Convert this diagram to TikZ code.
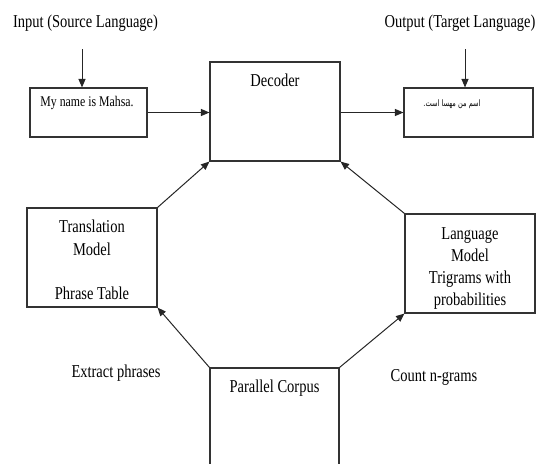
\documentclass[tikz,border=0pt]{standalone}
\usepackage{fontspec}
\setmainfont{Liberation Serif}
\newfontfamily\arabicfont[Script=Arabic]{DejaVu Sans}
\TeXXeTstate=1
\usetikzlibrary{arrows.meta}
\newcommand{\vtxt}[1]{\scalebox{1}[1.25]{#1}}
\begin{document}
\begin{tikzpicture}[x=1pt,y=-1pt,
  box/.style={draw=black!80, line width=1.1pt, inner sep=0pt, fill=none},
  txt/.style={inner sep=0pt, anchor=base, font=\fontsize{14.5}{17}\selectfont},
  small/.style={inner sep=0pt, anchor=base, font=\fontsize{11.8}{14}\selectfont},
  arr/.style={draw=black!85, line width=1pt, -{Triangle[length=8.5pt,width=7pt]}}]
\useasboundingbox (0,0) rectangle (543,463);
\clip (0,0) rectangle (543,463);
% boxes
\node[box, minimum width=117pt, minimum height=49pt] (input) at (88.5,112.5) {};
\node[box, minimum width=130pt, minimum height=99pt] (dec) at (275,111.5) {};
\node[box, minimum width=129pt, minimum height=49pt] (out) at (468.5,112.5) {};
\node[box, minimum width=130pt, minimum height=99pt] (tm) at (92,257.5) {};
\node[box, minimum width=130pt, minimum height=99pt] (lm) at (470,263.5) {};
\node[box, minimum width=129pt, minimum height=130pt] (pc) at (274.5,433) {};
% texts
\node[txt] (inlab) at (85.5,27.8) {\vtxt{Input (Source Language)}};
\node[txt] (outlab) at (460,27.8) {\vtxt{Output (Target Language)}};
\node[small] (intext) at (87,106.7) {\vtxt{My name is Mahsa.}};
\node[inner sep=0pt, anchor=base, font=\arabicfont\fontsize{6.6}{9}\selectfont] (outtext) at (452,106.7) {\scalebox{1}[1.35]{\beginR اسم من مهسا است.\endR}};
\node[txt] (dectext) at (275,86) {\vtxt{Decoder}};
\node[txt] (tm1) at (92,232.7) {\vtxt{Translation}};
\node[txt] (tm2) at (92,255) {\vtxt{Model}};
\node[txt] (tm3) at (92,299) {\vtxt{Phrase Table}};
\node[txt] (lm1) at (470,239) {\vtxt{Language}};
\node[txt] (lm2) at (470,261) {\vtxt{Model}};
\node[txt] (lm3) at (470,283) {\vtxt{Trigrams with}};
\node[txt] (lm4) at (470,305) {\vtxt{probabilities}};
\node[txt] (pctext) at (274.5,392.7) {\vtxt{Parallel Corpus}};
\node[txt] (extract) at (116,377.7) {\vtxt{Extract phrases}};
\node[txt] (count) at (434,381.7) {\vtxt{Count n-grams}};
% connectors
\coordinate (inTop) at (82,49);
\coordinate (outTop) at (465,49);
\draw[arr] (inTop) -- (inTop |- input.north);
\draw[arr] (outTop) -- (outTop |- out.north);
\draw[arr] (input.east) -- (input.east -| dec.west);
\draw[arr] (out.west -| dec.east) -- (out.west);
\draw[arr] (tm.north east) -- (dec.south west);
\draw[arr] (lm.north west) -- (dec.south east);
\draw[arr] (pc.north west) -- (tm.south east);
\draw[arr] (pc.north east) -- (lm.south west);
\end{tikzpicture}
\end{document}
